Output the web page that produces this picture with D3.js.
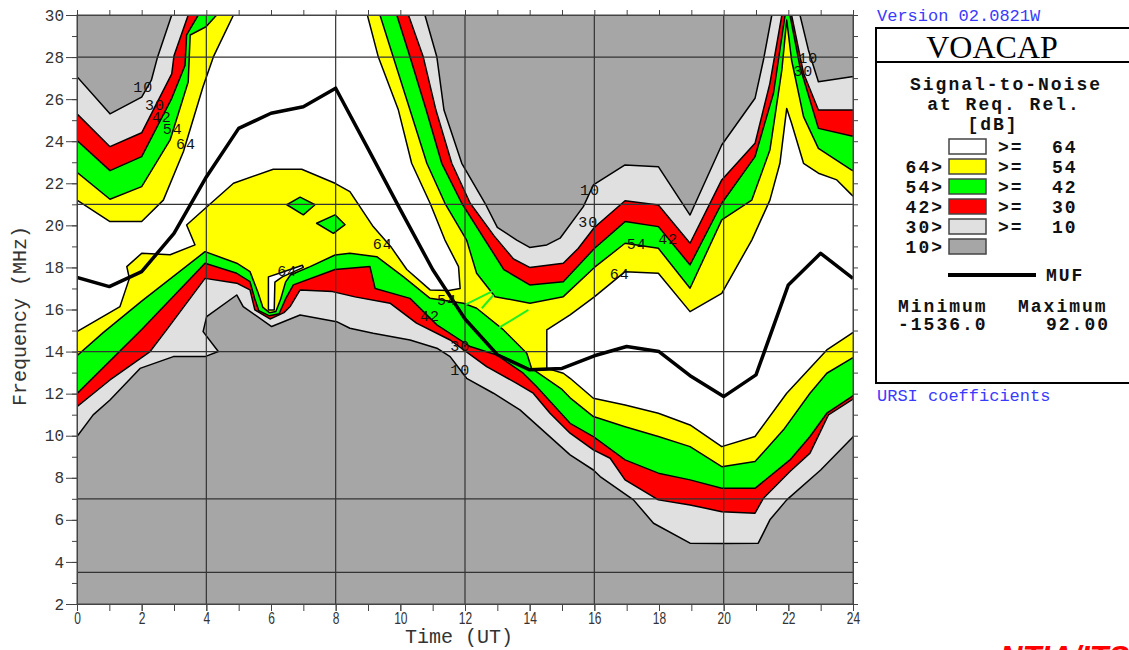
<!DOCTYPE html>
<html lang="en">
<head>
<meta charset="utf-8">
<title>VOACAP Signal-to-Noise</title>
<script src="https://d3js.org/d3.v7.min.js"></script>
<style>
  body { margin: 0; background: #fff; }
  svg text { font-family: "Liberation Mono", "DejaVu Sans Mono", monospace; }
</style>
</head>
<body>
<script>
// ---- data: [hour UT, frequency MHz] ----
var hours = d3.range(0, 25);
var muf = [17.53, 17.09, 17.8, 19.62, 22.3, 24.61, 25.33, 25.64, 26.52, 23.65, 20.75, 17.9, 15.55,
           13.85, 13.13, 13.2, 13.8, 14.24, 14.0, 12.81, 11.86, 12.89, 17.17, 18.67, 17.48];

// lower (bottom) edges of each SNR level
var lower10 = [[0,9.96],[0.5,10.99],[1.02,11.7],[1.95,13.2],[2.98,13.76],[3.96,13.76],[4.37,14.0],[3.9,14.95],
  [4.01,15.66],[4.94,16.69],[5.14,16.14],[6.02,15.19],[6.9,15.74],[8.03,15.42],[8.44,15.11],[9.16,14.87],
  [10.3,14.55],[11.13,14.16],[11.54,13.76],[12.05,12.73],[12.88,12.02],[13.7,11.23],[15.25,9.09],[15.97,8.37],
  [16.18,8.06],[17.21,6.95],[17.83,5.84],[18.96,4.89],[19.94,4.88],[21.07,4.89],[21.43,6.0],[21.95,6.95],
  [23.0,8.37],[23.96,9.88],[24,9.95]];
var lower30 = [[0,11.38],[1.02,12.65],[2.26,14.0],[2.77,15.03],[3.96,17.48],[4.94,17.25],[5.35,16.93],[5.5,15.98],
  [5.97,15.55],[6.4,15.85],[6.59,16.14],[6.9,16.93],[7.9,16.85],[8.6,16.6],[9.68,16.3],[10.5,15.35],[11.54,14.55],
  [12.67,13.28],[13.6,12.49],[14.11,12.02],[14.63,11.07],[15.25,10.12],[15.97,9.33],[16.49,8.93],[16.95,7.9],
  [17.98,6.95],[18.96,6.71],[19.94,6.39],[20.97,6.32],[21.23,7.03],[22.05,8.3],[22.67,9.17],[23.24,10.99],
  [23.96,11.7],[24,11.75]];
var lower42 = [[0,12.0],[2.0,15.05],[3.96,18.2],[4.94,17.72],[5.35,17.32],[5.5,16.5],[5.62,15.95],[5.95,15.7],
  [6.25,15.8],[6.45,16.5],[6.69,17.17],[7.98,17.9],[9.06,18.04],[9.22,17.0],[10.3,16.53],[11.13,15.27],
  [12.16,14.24],[12.98,13.84],[13.8,12.97],[14.22,12.33],[15.25,10.59],[15.97,9.96],[16.95,8.85],[17.98,8.22],
  [18.96,7.9],[19.94,7.5],[20.97,7.5],[22.05,8.85],[22.67,9.96],[23.19,11.07],[23.96,11.86],[24,11.9]];
var lower54 = [[0,13.8],[0.81,14.9],[2.0,16.4],[3.96,18.75],[4.94,18.2],[5.35,17.8],[5.6,16.8],[5.75,16.1],
  [5.95,15.85],[6.15,15.9],[6.3,16.5],[6.45,17.3],[6.6,17.64],[7.21,18.04],[7.98,18.59],[8.44,18.67],[9.27,18.51],
  [10.09,17.56],[10.92,16.53],[11.95,16.3],[12.36,16.06],[13.19,15.03],[13.91,13.92],[14.06,13.2],[15.0,12.2],
  [15.25,11.8],[15.97,10.91],[16.95,10.43],[17.98,9.96],[18.96,9.48],[19.94,8.53],[20.97,8.77],[21.85,10.28],
  [22.67,12.02],[23.19,12.97],[23.96,13.68],[24,13.7]];
var lower64L = [[0,14.95],[1.33,16.14],[1.62,17.48],[1.54,18.04],[2.0,18.67],[2.88,18.6],[3.65,19.07],[3.39,20.02],
  [3.96,20.8],[4.84,22.0],[6.07,22.67],[6.95,22.67],[7.98,22.0],[8.44,21.6],[9.16,19.94],[9.7,19.0],[10.2,17.9],
  [10.92,16.93],[11.5,16.9],[11.85,17.0]];
var lower64R = [[14.53,13.2],[15.04,12.97],[15.25,12.73],[15.97,11.78],[16.95,11.46],[17.98,11.07],[18.96,10.51],
  [19.94,9.48],[20.97,9.96],[21.95,12.02],[23.19,14.08],[23.96,14.87],[24,14.9]];

// upper (top) edges of each SNR level, values of 31 lie above the chart
var upper10 = [[0,27.07],[1.02,25.3],[2.0,26.1],[2.3,26.9],[2.48,27.94],[2.93,30],[3.0,31],[10.7,31],[10.76,30],
  [11.13,28.0],[11.35,25.48],[11.9,22.95],[12.62,21.05],[13.0,19.9],[13.6,19.3],[14.0,18.95],[14.53,19.07],
  [14.94,19.39],[15.66,20.89],[15.97,21.92],[16.95,22.87],[17.98,22.79],[18.96,20.49],[19.94,23.82],[20.97,26.04],
  [21.23,27.86],[21.49,30],[21.55,31],[22.3,31],[22.36,30],[22.62,28.34],[22.93,26.83],[23.96,27.07],[24,27.07]];
var upper30 = [[0,25.3],[1.02,23.74],[2.0,24.4],[2.93,27.2],[3.0,28.06],[3.44,30],[3.5,31],[10.2,31],[10.25,30],
  [10.71,28.0],[11.1,25.48],[11.59,22.95],[12.16,21.05],[12.9,19.5],[13.5,18.4],[14.0,18.0],[15.04,18.2],
  [15.5,18.9],[16.0,19.9],[16.95,21.17],[17.98,20.97],[18.96,19.15],[19.94,22.16],[20.97,23.9],[21.43,26.75],
  [21.8,30],[21.85,31],[22.05,31],[22.1,30],[22.47,27.23],[22.93,25.48],[23.96,25.48],[24,25.48]];
var upper42 = [[0,24.03],[1.02,22.6],[2.0,23.27],[2.93,26.04],[3.34,27.6],[3.39,29.05],[3.75,30],[3.8,31],
  [9.85,31],[9.89,30],[10.3,28.0],[10.8,25.48],[11.28,22.95],[11.9,21.05],[12.62,19.3],[13.2,17.9],[14.0,17.17],
  [15.04,17.32],[16.0,18.9],[16.95,20.18],[17.98,19.94],[18.96,18.12],[19.94,21.05],[20.97,23.27],[21.54,26.28],
  [21.9,30],[21.93,31],[22.02,31],[22.05,30],[22.36,27.54],[22.93,24.61],[23.96,24.25],[24,24.25]];
var upper54 = [[0,22.52],[1.02,21.24],[2.0,21.84],[2.88,24.06],[3.44,26.83],[3.5,29.05],[3.99,29.44],[4.32,30],
  [4.4,31],[9.3,31],[9.37,30],[9.78,28.0],[10.3,25.48],[10.82,22.95],[11.38,21.05],[12.05,19.3],[12.36,17.72],
  [12.93,16.61],[14.01,16.3],[15.04,16.61],[16.0,18.0],[16.95,19.15],[17.98,18.91],[18.96,17.01],[19.94,20.26],
  [20.87,21.2],[21.43,23.58],[21.8,27.39],[21.95,29.76],[22.1,27.86],[22.47,25.17],[22.93,23.66],[23.96,22.63],[24,22.6]];
var upper64L = [[0,21.2],[1.02,20.18],[2.0,20.18],[2.67,21.2],[3.29,23.5],[3.9,26.6],[4.22,28.02],[4.84,30],[4.9,31],
  [8.9,31],[8.98,30],[9.32,28.0],[9.94,25.48],[10.35,22.95],[10.92,21.05],[11.38,19.3],[11.8,18.04],[11.85,17.0]];
var upper64R = [[14.53,15.03],[15.25,15.74],[16.0,16.6],[16.95,17.8],[17.98,17.72],[18.96,15.9],[19.94,16.77],
  [20.87,19.3],[21.43,21.2],[21.74,22.95],[21.95,25.56],[22.1,24.85],[22.47,22.95],[22.93,22.48],[23.5,22.16],
  [23.96,21.45],[24,21.4]];

// small islands
var islands54 = [[[6.49,20.98],[6.9,21.34],[7.36,20.98],[7.0,20.5]],
                 [[7.41,20.1],[7.98,20.5],[8.29,20.03],[7.93,19.62]]];
var island64 = [[5.92,15.98],[6.1,15.98],[6.12,17.3],[6.35,17.55],[7.0,18.0],[6.97,18.1],[6.3,17.75],[5.92,17.55]];
var streaks = [[[12.0,16.22],[12.93,16.93]], [[12.52,16.06],[12.88,16.69]], [[13.03,15.11],[13.96,15.98]]];

// contour labels
var contourLabels = [[2.05,26.52,"10"],[2.41,25.64,"30"],[2.62,25.09,"42"],[2.96,24.5,"54"],[3.37,23.82,"64"],
  [9.46,19.02,"64"],[6.5,17.78,"64"],[11.44,16.4,"54"],[10.92,15.64,"42"],[11.85,14.17,"30"],[11.85,13.04,"10"],
  [15.87,21.6,"10"],[15.81,20.1,"30"],[17.31,19.02,"54"],[18.29,19.3,"42"],[16.79,17.64,"64"],
  [22.62,27.89,"10"],[22.46,27.26,"30"]];

var gridHours = [4, 8, 12, 16, 20];
var gridFreqs = [28, 21, 14, 7, 3.5];

var legendColors = ["#ffffff", "#ffff00", "#00ff00", "#ff0000", "#e0e0e0", "#a6a6a6"];
var legendLeft = ["", "64>", "54>", "42>", "30>", "10>"];
var legendRight = ["64", "54", "42", "30", "10", ""];

// ---- drawing ----
var svg = d3.select("body").append("svg").attr("width", 1129).attr("height", 650);

var x = d3.scaleLinear().domain([0, 24]).range([77, 853]);
var y = d3.scaleLinear().domain([2, 30]).range([604, 15]);

svg.append("clipPath").attr("id", "plot")
  .append("rect").attr("x", 77).attr("y", 15).attr("width", 776).attr("height", 589);

var g = svg.append("g").attr("clip-path", "url(#plot)");
g.append("rect").attr("x", 77).attr("y", 15).attr("width", 776).attr("height", 589).attr("fill", "#a6a6a6");

var line = d3.line().x(function(d) { return x(d[0]); }).y(function(d) { return y(d[1]); });

function band(lo, up) {
  var a = lo[0], b = lo[lo.length - 1], c = up[0], e = up[up.length - 1];
  return lo.concat([[24.6, b[1]], [24.6, e[1]]], up.slice().reverse(), [[-0.6, c[1]], [-0.6, a[1]]]);
}

var regions = [
  { pts: band(lower10, upper10), fill: "#e0e0e0" },
  { pts: band(lower30, upper30), fill: "#ff0000" },
  { pts: band(lower42, upper42), fill: "#00ff00" },
  { pts: band(lower54, upper54), fill: "#ffff00" },
  { pts: lower64L.concat(upper64L.slice(0, -1).reverse(), [[-0.6, 21.2], [-0.6, 14.95]]), fill: "#ffffff" },
  { pts: lower64R.concat([[24.6, 14.9], [24.6, 21.4]], upper64R.slice().reverse()), fill: "#ffffff" }
];
islands54.forEach(function(p) { regions.push({ pts: p, fill: "#00ff00" }); });
regions.push({ pts: island64, fill: "#ffffff" });

g.selectAll("path.region").data(regions).enter().append("path")
  .attr("class", "region")
  .attr("d", function(d) { return line(d.pts) + "Z"; })
  .attr("fill", function(d) { return d.fill; })
  .attr("stroke", "#000").attr("stroke-width", 1.5).attr("stroke-linejoin", "round");

g.selectAll("path.streak").data(streaks).enter().append("path")
  .attr("class", "streak").attr("d", line)
  .attr("stroke", "#22ee22").attr("stroke-width", 2).attr("fill", "none");

// grid
g.selectAll("line.gx").data(gridHours).enter().append("line")
  .attr("x1", function(d) { return x(d); }).attr("x2", function(d) { return x(d); })
  .attr("y1", y(30)).attr("y2", y(2)).attr("stroke", "#333").attr("stroke-width", 1.2);
g.selectAll("line.gy").data(gridFreqs).enter().append("line")
  .attr("y1", function(d) { return y(d); }).attr("y2", function(d) { return y(d); })
  .attr("x1", x(0)).attr("x2", x(24)).attr("stroke", "#333").attr("stroke-width", 1.2);

// MUF
g.append("path").datum(hours)
  .attr("d", d3.line().x(function(d) { return x(d); }).y(function(d, i) { return y(muf[i]); }))
  .attr("fill", "none").attr("stroke", "#000").attr("stroke-width", 3.5).attr("stroke-linejoin", "round");

// contour labels
g.selectAll("text.cl").data(contourLabels).enter().append("text")
  .attr("x", function(d) { return x(d[0]); }).attr("y", function(d) { return y(d[1]); })
  .attr("text-anchor", "middle").attr("dominant-baseline", "central")
  .attr("font-size", 15).attr("letter-spacing", 1).attr("fill", "#111")
  .text(function(d) { return d[2]; });

// axes
function styleAxis(sel) {
  sel.attr("color", "#444").attr("font-family", null).attr("font-size", null);
}
svg.append("g").attr("transform", "translate(77,0)")
  .call(d3.axisLeft(y).tickValues(d3.range(2, 31)).tickSize(5).tickFormat(""))
  .call(styleAxis);
svg.append("g").attr("transform", "translate(77,0)")
  .call(d3.axisLeft(y).tickValues(d3.range(2, 31, 2)).tickSize(11).tickPadding(2))
  .call(styleAxis)
  .selectAll("text").attr("font-size", 16).attr("fill", "#333");
svg.append("g").attr("transform", "translate(853,0)")
  .call(d3.axisRight(y).tickValues(d3.range(2, 31)).tickSize(5).tickFormat(""))
  .call(styleAxis);
svg.append("g").attr("transform", "translate(0,15)")
  .call(d3.axisTop(x).tickValues(d3.range(0, 25)).tickSize(5).tickFormat(""))
  .call(styleAxis);
svg.append("g").attr("transform", "translate(0,604)")
  .call(d3.axisBottom(x).tickValues(d3.range(0, 25)).tickSize(7).tickFormat(""))
  .call(styleAxis);
svg.append("g").attr("transform", "translate(0,604)")
  .call(d3.axisBottom(x).tickValues(d3.range(0, 25, 2)).tickSize(7).tickPadding(1))
  .call(styleAxis)
  .selectAll("text")
  .style("font-family", "'Liberation Sans Narrow', 'Liberation Sans', sans-serif")
  .attr("font-size", 15).attr("fill", "#333")
  .attr("transform", "scale(0.8,1.1)");

svg.append("rect").attr("x", 77).attr("y", 15).attr("width", 776).attr("height", 589)
  .attr("fill", "none").attr("stroke", "#444").attr("stroke-width", 1);

svg.append("text").attr("x", 459).attr("y", 643).attr("text-anchor", "middle")
  .attr("font-size", 20).attr("fill", "#333").text("Time (UT)");
svg.append("text").attr("transform", "translate(20,316) rotate(-90)")
  .attr("text-anchor", "middle").attr("dominant-baseline", "central")
  .attr("font-size", 20).attr("fill", "#333").text("Frequency (MHz)");

// ---- legend ----
svg.append("text").attr("x", 877).attr("y", 21).attr("font-size", 17).attr("fill", "#3a3aff")
  .text("Version 02.0821W");
svg.append("text").attr("x", 877).attr("y", 401).attr("font-size", 17).attr("fill", "#3a3aff")
  .text("URSI coefficients");

var lg = svg.append("g");
lg.append("rect").attr("x", 876).attr("y", 28).attr("width", 270).attr("height", 355)
  .attr("fill", "#fff").attr("stroke", "#000").attr("stroke-width", 2);
lg.append("line").attr("x1", 876).attr("x2", 1146).attr("y1", 62).attr("y2", 62)
  .attr("stroke", "#000").attr("stroke-width", 2);
lg.append("text").attr("x", 992).attr("y", 58).attr("text-anchor", "middle")
  .style("font-family", "'Liberation Serif', serif").attr("font-size", 32).text("VOACAP");

var lt = lg.append("g").attr("font-size", 18).attr("font-weight", "bold")
  .attr("letter-spacing", 2).attr("fill", "#111");
[["Signal-to-Noise", 1006, 90], ["at Req. Rel.", 1004, 110], ["[dB]", 993, 130]].forEach(function(t) {
  lt.append("text").attr("x", t[1]).attr("y", t[2]).attr("text-anchor", "middle").text(t[0]);
});

var rows = lg.selectAll("g.row").data(legendColors).enter().append("g")
  .attr("class", "row")
  .attr("transform", function(d, i) { return "translate(0," + (139 + i * 20) + ")"; });
rows.append("rect").attr("x", 949).attr("y", 0).attr("width", 37).attr("height", 15)
  .attr("fill", function(d) { return d; }).attr("stroke", "#444").attr("stroke-width", 1.5);
rows.append("text").attr("x", 944).attr("y", 14).attr("text-anchor", "end")
  .attr("font-size", 18).attr("font-weight", "bold").attr("letter-spacing", 2).attr("fill", "#111")
  .text(function(d, i) { return legendLeft[i]; });
rows.append("text").attr("x", 998).attr("y", 14)
  .attr("font-size", 18).attr("font-weight", "bold").attr("letter-spacing", 2).attr("fill", "#111")
  .text(function(d, i) { return legendRight[i] ? ">=" : ""; });
rows.append("text").attr("x", 1052).attr("y", 14)
  .attr("font-size", 18).attr("font-weight", "bold").attr("letter-spacing", 2).attr("fill", "#111")
  .text(function(d, i) { return legendRight[i]; });

lg.append("line").attr("x1", 948).attr("x2", 1036).attr("y1", 275).attr("y2", 275)
  .attr("stroke", "#000").attr("stroke-width", 4);
lt.append("text").attr("x", 1046).attr("y", 281).text("MUF");
lt.append("text").attr("x", 898).attr("y", 312).text("Minimum");
lt.append("text").attr("x", 1018).attr("y", 312).text("Maximum");
lt.append("text").attr("x", 898).attr("y", 330).text("-1536.0");
lt.append("text").attr("x", 1110).attr("y", 330).attr("text-anchor", "end").text("92.00");

svg.append("text").attr("x", 1000).attr("y", 668)
  .style("font-family", "'Liberation Sans', sans-serif").attr("font-size", 31)
  .attr("font-weight", "bold").attr("font-style", "italic").attr("fill", "#ff0000")
  .text("NTIA/ITS");
</script>
</body>
</html>
